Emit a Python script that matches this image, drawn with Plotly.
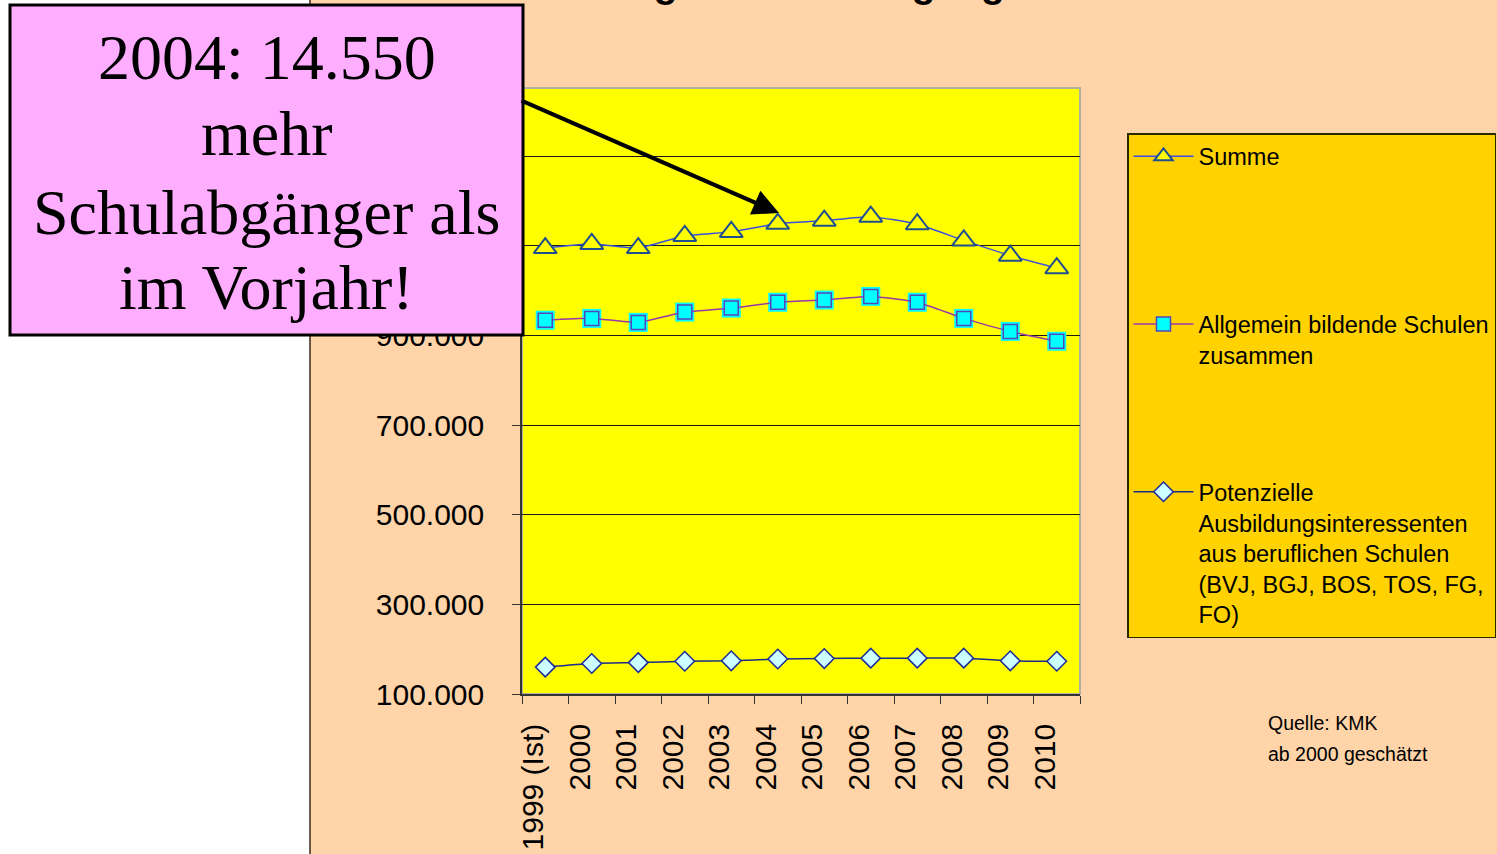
import plotly.graph_objects as go

# ---------------- data ----------------
years = ["1999 (Ist)", "2000", "2001", "2002", "2003", "2004",
         "2005", "2006", "2007", "2008", "2009", "2010"]
summe = [1095000, 1104000, 1095000, 1122000, 1131000, 1149000,
         1156000, 1165000, 1148000, 1112000, 1078000, 1050000]
allgemein = [934000, 938000, 929000, 952000, 961000, 974000,
             979000, 987000, 974000, 938000, 909000, 887000]
potenziell = [160000, 168000, 170000, 173000, 174000, 178000,
              179000, 180000, 180000, 180000, 174000, 173000]
y_tickvals = [100000, 300000, 500000, 700000, 900000, 1100000, 1300000]
y_ticktext = ["100.000", "300.000", "500.000", "700.000", "900.000",
              "1.100.000", "1.300.000"]

W, H = 1497, 854
def px(x):
    return x / W
def py(y):
    return 1 - y / H

X0, X1 = px(522), px(1080)
Y0, Y1 = py(694), py(88)

FILL = "\u00a0"
fig = go.Figure()

fig.add_trace(go.Scatter(
    x=years, y=summe, name="Summe" + ("<br>" + FILL) * 4,
    legendgroup="a", mode="lines+markers",
    line=dict(color="#3a4fe0", width=1.5, shape="spline", smoothing=0.5),
    marker=dict(symbol="triangle-up", size=20, color="#FFFF00",
                line=dict(color="#1f4f8f", width=2)),
))
fig.add_trace(go.Scatter(
    x=years, y=allgemein, showlegend=False, mode="markers",
    marker=dict(symbol="square", size=19, color="#00FFFF", line=dict(width=0)),
    hoverinfo="skip",
))
fig.add_trace(go.Scatter(
    x=years, y=allgemein,
    name="Allgemein bildende Schulen<br>zusammen" + ("<br>" + FILL) * 3,
    legendgroup="b", mode="lines+markers",
    line=dict(color="#9a38a8", width=1.5, shape="spline", smoothing=0.5),
    marker=dict(symbol="square", size=14, color="#00FFFF",
                line=dict(color="#5048b8", width=1.5)),
))
fig.add_trace(go.Scatter(
    x=years, y=potenziell,
    name="Potenzielle<br>Ausbildungsinteressenten<br>aus beruflichen Schulen<br>(BVJ, BGJ, BOS, TOS, FG,<br>FO)",
    legendgroup="c", mode="lines+markers",
    line=dict(color="#1a2a8a", width=1.5, shape="spline", smoothing=0.5),
    marker=dict(symbol="diamond", size=15, color="#CCFFFF",
                line=dict(color="#1a2a9a", width=1.5)),
))

shapes = [
    # peach slide background
    dict(type="rect", xref="paper", yref="paper", x0=px(310), x1=1.02, y0=-0.02, y1=1.02,
         fillcolor="#FFD4A8", line=dict(color="#3a2a1a", width=1.5), layer="below"),
    # plot area
    dict(type="rect", xref="paper", yref="paper", x0=X0, x1=X1, y0=Y0, y1=Y1,
         fillcolor="#FFFF00", line=dict(color="#b0b0a0", width=2), layer="below"),
    # pink callout box
    dict(type="rect", xref="paper", yref="paper", x0=px(10), x1=px(523), y0=py(335), y1=py(5),
         fillcolor="#FFAEFF", line=dict(color="black", width=3), layer="above"),
]

serif = "Liberation Serif, Times New Roman, serif"
sans = "Liberation Sans, Arial, sans-serif"
annotations = []
for txt, yc in [("2004: 14.550", 58), ("mehr", 134),
                ("Schulabgänger als", 212), ("im Vorjahr!", 287)]:
    annotations.append(dict(text=txt, xref="paper", yref="paper", x=px(266.5), y=py(yc),
                            xanchor="center", yanchor="middle", showarrow=False,
                            font=dict(family=serif, size=64, color="black")))
# arrow
annotations.append(dict(text="", xref="paper", yref="paper", x=px(779), y=py(213),
                        ax=520 - 779, ay=100 - 213, showarrow=True,
                        arrowhead=2, arrowsize=1.3, arrowwidth=4, arrowcolor="black"))
# title (mostly cut off above the page)
annotations.append(dict(text="<b>Entwicklung der Schulabgängerzahlen</b>", xref="paper", yref="paper",
                        x=px(446), y=py(7), xanchor="left", yanchor="bottom", showarrow=False,
                        font=dict(family=sans, size=39, color="black")))
# source notes
annotations.append(dict(text="Quelle: KMK", xref="paper", yref="paper", x=px(1266), y=py(723),
                        xanchor="left", yanchor="middle", showarrow=False,
                        font=dict(family=sans, size=19.5, color="black")))
annotations.append(dict(text="ab 2000 geschätzt", xref="paper", yref="paper", x=px(1266), y=py(754),
                        xanchor="left", yanchor="middle", showarrow=False,
                        font=dict(family=sans, size=19.5, color="black")))

fig.update_layout(
    width=W, height=854, autosize=False,
    margin=dict(l=0, r=0, t=0, b=0, pad=0),
    paper_bgcolor="white", plot_bgcolor="rgba(0,0,0,0)",
    font=dict(family=sans, color="black"),
    showlegend=True,
    legend=dict(x=px(1127), y=py(133), xanchor="left", yanchor="top",
                bgcolor="#FFD200", bordercolor="#2a2a00", borderwidth=1.5,
                font=dict(family=sans, size=23.5, color="black"),
                tracegroupgap=12, valign="top", itemwidth=60, itemclick=False),
    shapes=shapes, annotations=annotations,
    xaxis=dict(domain=[X0, X1], type="category", categoryorder="array", categoryarray=years,
               range=[-0.5, 11.5], autorange=False, automargin=False,
               tickson="boundaries", ticks="outside", ticklen=8, tickcolor="#333",
               showline=True, linecolor="#333", linewidth=1.5, showgrid=False,
               tickangle=-90, tickfont=dict(family=sans, size=30, color="black"),
               ticklabelstandoff=16, ticklabelshift=-12),
    yaxis=dict(domain=[Y0, Y1], range=[100000, 1452000], autorange=False, automargin=False,
               tickvals=y_tickvals, ticktext=y_ticktext,
               ticks="outside", ticklen=8, tickcolor="#333",
               showline=True, linecolor="#333", linewidth=1.5,
               showgrid=True, gridcolor="#1a1a1a", gridwidth=1, zeroline=False,
               tickfont=dict(family=sans, size=30, color="black"),
               ticklabelstandoff=22),
)

fig.write_html("out.html")
